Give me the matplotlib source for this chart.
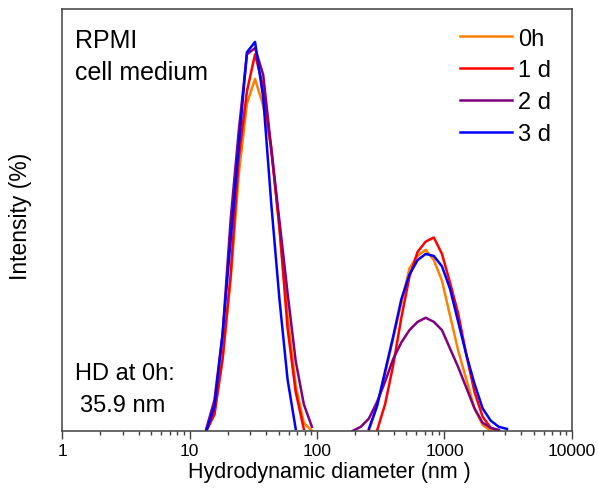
import numpy as np
import matplotlib
matplotlib.use("Agg")
import matplotlib.pyplot as plt

plt.rcParams['font.family'] = ['Liberation Sans', 'DejaVu Sans']

# size bins (nm), shared by all measurements
sizes = [11.7, 13.54, 15.69, 18.17, 21.04, 24.36, 28.21, 32.67, 37.84, 43.82,
         50.75, 58.77, 68.06, 78.82, 91.28, 105.7, 122.4, 141.8, 164.2, 190.1,
         220.2, 255.0, 295.3, 342.0, 396.1, 458.7, 531.2, 615.1, 712.4, 825.0,
         955.4, 1106, 1281, 1484, 1718, 1990, 2305, 2669, 3091, 3580]

# intensity (%) per bin, None = not drawn
int_0h = [None, 0.1, 0.9, 3.5, 7.4, 12.5, 15.9, 17.1, 15.8, 13.8,
          9.8, 5.6, 2.2, 0.4, 0.0, None, None, None, None, None,
          None, 0.0, 1.2, 2.8, 4.5, 6.2, 7.9, 8.5, 8.8, 8.3,
          7.3, 5.6, 3.9, 2.5, 1.1, 0.3, 0.0, None, None, None]
int_1d = [None, 0.0, 0.8, 3.5, 7.6, 13.3, 16.5, 18.3, 16.7, 13.6,
          9.9, 5.0, 1.9, 0.1, None, None, None, None, None, None,
          None, None, 0.0, 1.3, 3.2, 5.5, 7.5, 8.7, 9.2, 9.4,
          8.6, 7.2, 5.7, 3.7, 1.9, 0.7, 0.15, 0.0, None, None]
int_2d = [None, 0.1, 1.5, 4.7, 10.3, 14.6, 18.3, 18.6, 17.3, 13.7,
          10.2, 6.7, 3.4, 1.3, 0.2, None, None, None, None, 0.0,
          0.2, 0.6, 1.4, 2.4, 3.5, 4.3, 4.9, 5.3, 5.5, 5.3,
          4.9, 4.0, 3.1, 2.1, 1.1, 0.4, 0.15, 0.05, None, None]
int_3d = [None, 0.0, 1.2, 4.7, 9.3, 13.9, 18.4, 18.9, 16.2, 11.0,
          6.4, 2.5, 0.1, None, None, None, None, None, None, None,
          None, 0.1, 1.2, 2.9, 4.6, 6.4, 7.6, 8.3, 8.6, 8.5,
          8.0, 6.9, 5.3, 3.7, 2.3, 1.1, 0.5, 0.2, 0.1, None]

labels = ['0h', '1 d', '2 d', '3 d']
colors = ['#FF8000', '#FF0000', '#800080', '#0000FF']


def to_arr(vals):
    return np.array([np.nan if v is None else v for v in vals], dtype=float)


fig = plt.figure(figsize=(5.98, 4.89), dpi=100)
ax = fig.add_axes([0.1037, 0.1166, 0.8528, 0.863])

for vals, lab, col in zip([int_0h, int_1d, int_2d, int_3d], labels, colors):
    ax.plot(sizes, to_arr(vals), color=col, lw=1.8, label=lab)

ax.set_xscale('log')
ax.set_xlim(1, 10000)
ax.set_ylim(0, 20.5)
ax.set_yticks([])
ax.set_xticks([1, 10, 100, 1000, 10000])
ax.set_xticklabels(['1', '10', '100', '1000', '10000'])
ax.tick_params(axis='x', which='major', length=6, width=1, direction='out',
               labelsize=12.5, pad=3, color='#404040')
ax.tick_params(axis='x', which='minor', length=2.8, width=1, direction='out',
               color='#404040')
for sp in ax.spines.values():
    sp.set_color('#404040')
    sp.set_linewidth(1.1)

ax.set_xlabel('Hydrodynamic diameter (nm )', fontsize=15.5, va='top')
ax.xaxis.set_label_coords(0.525, -0.07)
ax.set_ylabel('Intensity (%)', fontsize=16.5, va='center')
ax.yaxis.set_label_coords(-0.082, 0.51)

ax.text(0.025, 0.91, 'RPMI', transform=ax.transAxes,
        fontsize=18, va='baseline', ha='left')
ax.text(0.025, 0.834, 'cell medium', transform=ax.transAxes,
        fontsize=18, va='baseline', ha='left')
ax.text(0.025, 0.123, 'HD at 0h:', transform=ax.transAxes,
        fontsize=17, va='baseline', ha='left')
ax.text(0.035, 0.047, '35.9 nm', transform=ax.transAxes,
        fontsize=17, va='baseline', ha='left')

ax.legend(loc='upper left', bbox_to_anchor=(0.78, 0.956), frameon=False,
          fontsize=17, handlelength=2.2, handletextpad=0.25,
          labelspacing=0.42, borderpad=0, borderaxespad=0)

fig.savefig('out.png', dpi=100)
